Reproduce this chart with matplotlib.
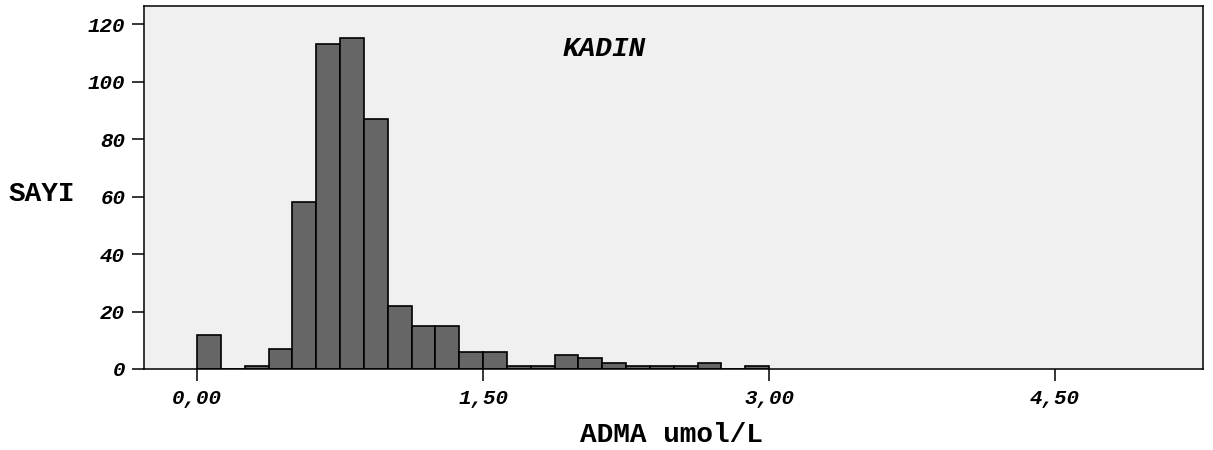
import matplotlib
matplotlib.use("Agg")
import matplotlib.pyplot as plt
import numpy as np

# Histogram data: bin edges (width 0.125) and counts
bin_width = 0.125
bin_starts = [0.0, 0.125, 0.25, 0.375, 0.5, 0.625, 0.75, 0.875, 1.0, 1.125,
              1.25, 1.375, 1.5, 1.625, 1.75, 1.875, 2.0, 2.125, 2.25, 2.375,
              2.5, 2.625, 2.75, 2.875]
counts = [12, 0, 1, 7, 58, 113, 115, 87, 22, 15,
          15, 6, 6, 1, 1, 5, 4, 2, 1, 1,
          1, 2, 0, 1]

x_ticks = [0.0, 1.5, 3.0, 4.5]
x_tick_labels = ["0,00", "1,50", "3,00", "4,50"]
y_ticks = [0, 20, 40, 60, 80, 100, 120]
y_tick_labels = ["0", "20", "40", "60", "80", "100", "120"]

title_text = "KADIN"
x_label = "ADMA umol/L"
y_label = "SAYI"

W, H = 1213, 450
fig = plt.figure(figsize=(W / 100, H / 100), dpi=100)
fig.patch.set_facecolor("white")
ax = fig.add_axes([144 / W, (H - 369) / H, (1203 - 144) / W, (369 - 6) / H])
ax.set_facecolor("#f0f0f0")

ax.bar(bin_starts, counts, width=bin_width, align="edge",
       color="#666666", edgecolor="black", linewidth=1.2)

ax.set_xlim(-0.278, 5.275)
ax.set_ylim(0, 126.3)

mono = "Liberation Mono"
ax.set_xticks(x_ticks)
ax.set_xticklabels(x_tick_labels, family=mono, weight="bold", style="italic", fontsize=15)
ax.set_yticks(y_ticks)
ax.set_yticklabels(y_tick_labels, family=mono, weight="bold", style="italic", fontsize=15)
ax.tick_params(axis="both", direction="out", length=8.5, width=1.1, color="black")
ax.tick_params(axis="x", pad=6)
ax.tick_params(axis="y", pad=5)
for s in ax.spines.values():
    s.set_linewidth(1.1)
    s.set_color("black")

fig.text(604 / W, 1 - 49 / H, title_text, family=mono, weight="bold", style="italic",
         fontsize=20, ha="center", va="center")
fig.text(671 / W, 1 - 435 / H, x_label, family=mono, weight="bold",
         fontsize=20, ha="center", va="center")
fig.text(42 / W, 1 - 194 / H, y_label, family=mono, weight="bold",
         fontsize=20, ha="center", va="center")

fig.savefig("out.png", dpi=100)
